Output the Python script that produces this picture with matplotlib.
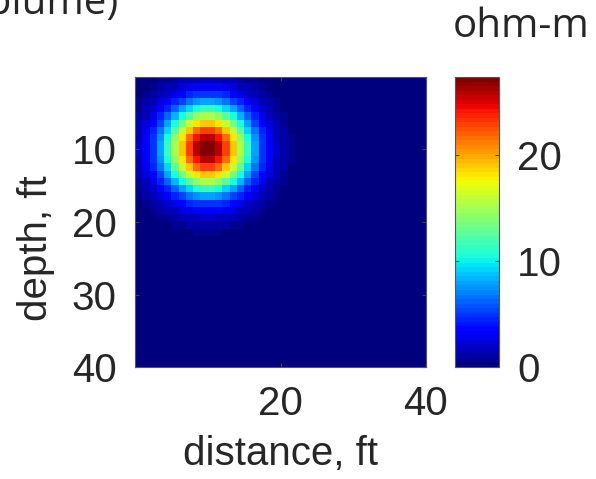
import matplotlib
matplotlib.use('Agg')
import matplotlib.pyplot as plt
import numpy as np

# one quarter of the plume (ohm-m).
# row = cells down from the centre, column = cells right of the centre;
# the blob is mirror symmetric about depth 10 ft / distance 10 ft
quarter = [
    [27.4, 25.8, 22.9, 19.1, 15.1, 11.2, 7.8, 5.1, 3.2, 1.9, 1.0, 0.5],
    [25.8, 24.3, 21.6, 18.0, 14.2, 10.5, 7.3, 4.8, 3.0, 1.7, 1.0, 0.5],
    [22.9, 21.6, 19.1, 16.0, 12.6, 9.3, 6.5, 4.3, 2.6, 1.5, 0.9, 0.4],
    [19.1, 18.0, 16.0, 13.4, 10.5, 7.8, 5.4, 3.6, 2.2, 1.3, 0.7, 0.4],
    [15.1, 14.2, 12.6, 10.5, 8.3, 6.1, 4.3, 2.8, 1.7, 1.0, 0.6, 0.3],
    [11.2, 10.5, 9.3, 7.8, 6.1, 4.5, 3.2, 2.1, 1.3, 0.8, 0.4, 0.2],
    [7.8, 7.3, 6.5, 5.4, 4.3, 3.2, 2.2, 1.5, 0.9, 0.5, 0.3, 0.2],
    [5.1, 4.8, 4.3, 3.6, 2.8, 2.1, 1.5, 1.0, 0.6, 0.3, 0.2, 0.1],
    [3.2, 3.0, 2.7, 2.2, 1.7, 1.3, 0.9, 0.6, 0.4, 0.2, 0.1, 0.1],
    [1.9, 1.7, 1.5, 1.3, 1.0, 0.8, 0.5, 0.3, 0.2, 0.1, 0.1, 0.0],
    [1.0, 1.0, 0.9, 0.7, 0.6, 0.4, 0.3, 0.2, 0.1, 0.1, 0.0, 0.0],
    [0.5, 0.5, 0.4, 0.4, 0.3, 0.2, 0.2, 0.1, 0.1, 0.0, 0.0, 0.0],
]
n_cells = 40          # 40 x 40 ft section, 1 ft cells
centre_cell = 10
vmin, vmax = 0, 27.4

x_ticks = [20, 40]
y_ticks = [10, 20, 30, 40]
cbar_ticks = [0, 10, 20]
title = 'Resistivity (plume)'
units = 'ohm-m'

# place the quarter in all four directions around the centre
q = np.array(quarter)
grid = np.zeros((n_cells, n_cells))
for i in range(q.shape[0]):
    for j in range(q.shape[1]):
        for r in (centre_cell + i, centre_cell - 1 - i):
            for c in (centre_cell + j, centre_cell - 1 - j):
                if 0 <= r < n_cells and 0 <= c < n_cells:
                    grid[r, c] = q[i, j]

W, H = 596, 479
fig = plt.figure(figsize=(W / 100, H / 100), dpi=100)
tick_font = 'Liberation Sans'
txt = '#262626'
fs = 29

ax = fig.add_axes([135 / W, 1 - 367 / H, 291 / W, 290 / H])
im = ax.imshow(grid, cmap=plt.get_cmap('jet', 64), vmin=vmin, vmax=vmax,
               extent=[0, n_cells, n_cells, 0], interpolation='nearest',
               aspect='auto')
ax.set_xticks(x_ticks)
ax.set_yticks(y_ticks)
ax.set_xlim(0, n_cells)
ax.set_ylim(n_cells, 0)
ax.tick_params(direction='in', length=3, width=0.8, color='#444444',
               labelsize=fs, labelcolor=txt, top=True, right=True, pad=13)
for lab in ax.get_xticklabels() + ax.get_yticklabels():
    lab.set_family(tick_font)
for s in ax.spines.values():
    s.set_color('#555555')
    s.set_linewidth(0.8)

ax.set_xlabel('distance, ft', fontsize=fs, family=tick_font, color=txt, va='top')
ax.xaxis.set_label_coords(0.5, -0.233)
ax.set_ylabel('depth, ft', fontsize=fs, family=tick_font, color=txt)
ax.yaxis.set_label_coords(-0.275, 0.41)

cax = fig.add_axes([455 / W, 1 - 367 / H, 44 / W, 290 / H])
cb = fig.colorbar(im, cax=cax, ticks=cbar_ticks)
cb.outline.set_edgecolor('#555555')
cb.outline.set_linewidth(0.8)
cax.tick_params(direction='in', length=3, width=0.8, color='#444444',
                labelsize=fs, labelcolor=txt, left=True, right=True, pad=13)
for lab in cax.get_yticklabels():
    lab.set_family(tick_font)

# title and units label in the figure's other font
fig.text(118 / W, 1 - 14 / H, title, ha='right', va='baseline',
         fontsize=fs, family='Open Sans', color=txt)
fig.text(453 / W, 1 - 37 / H, units, ha='left', va='baseline',
         fontsize=fs, family='Open Sans', color=txt)

fig.savefig('out.png', dpi=100)
